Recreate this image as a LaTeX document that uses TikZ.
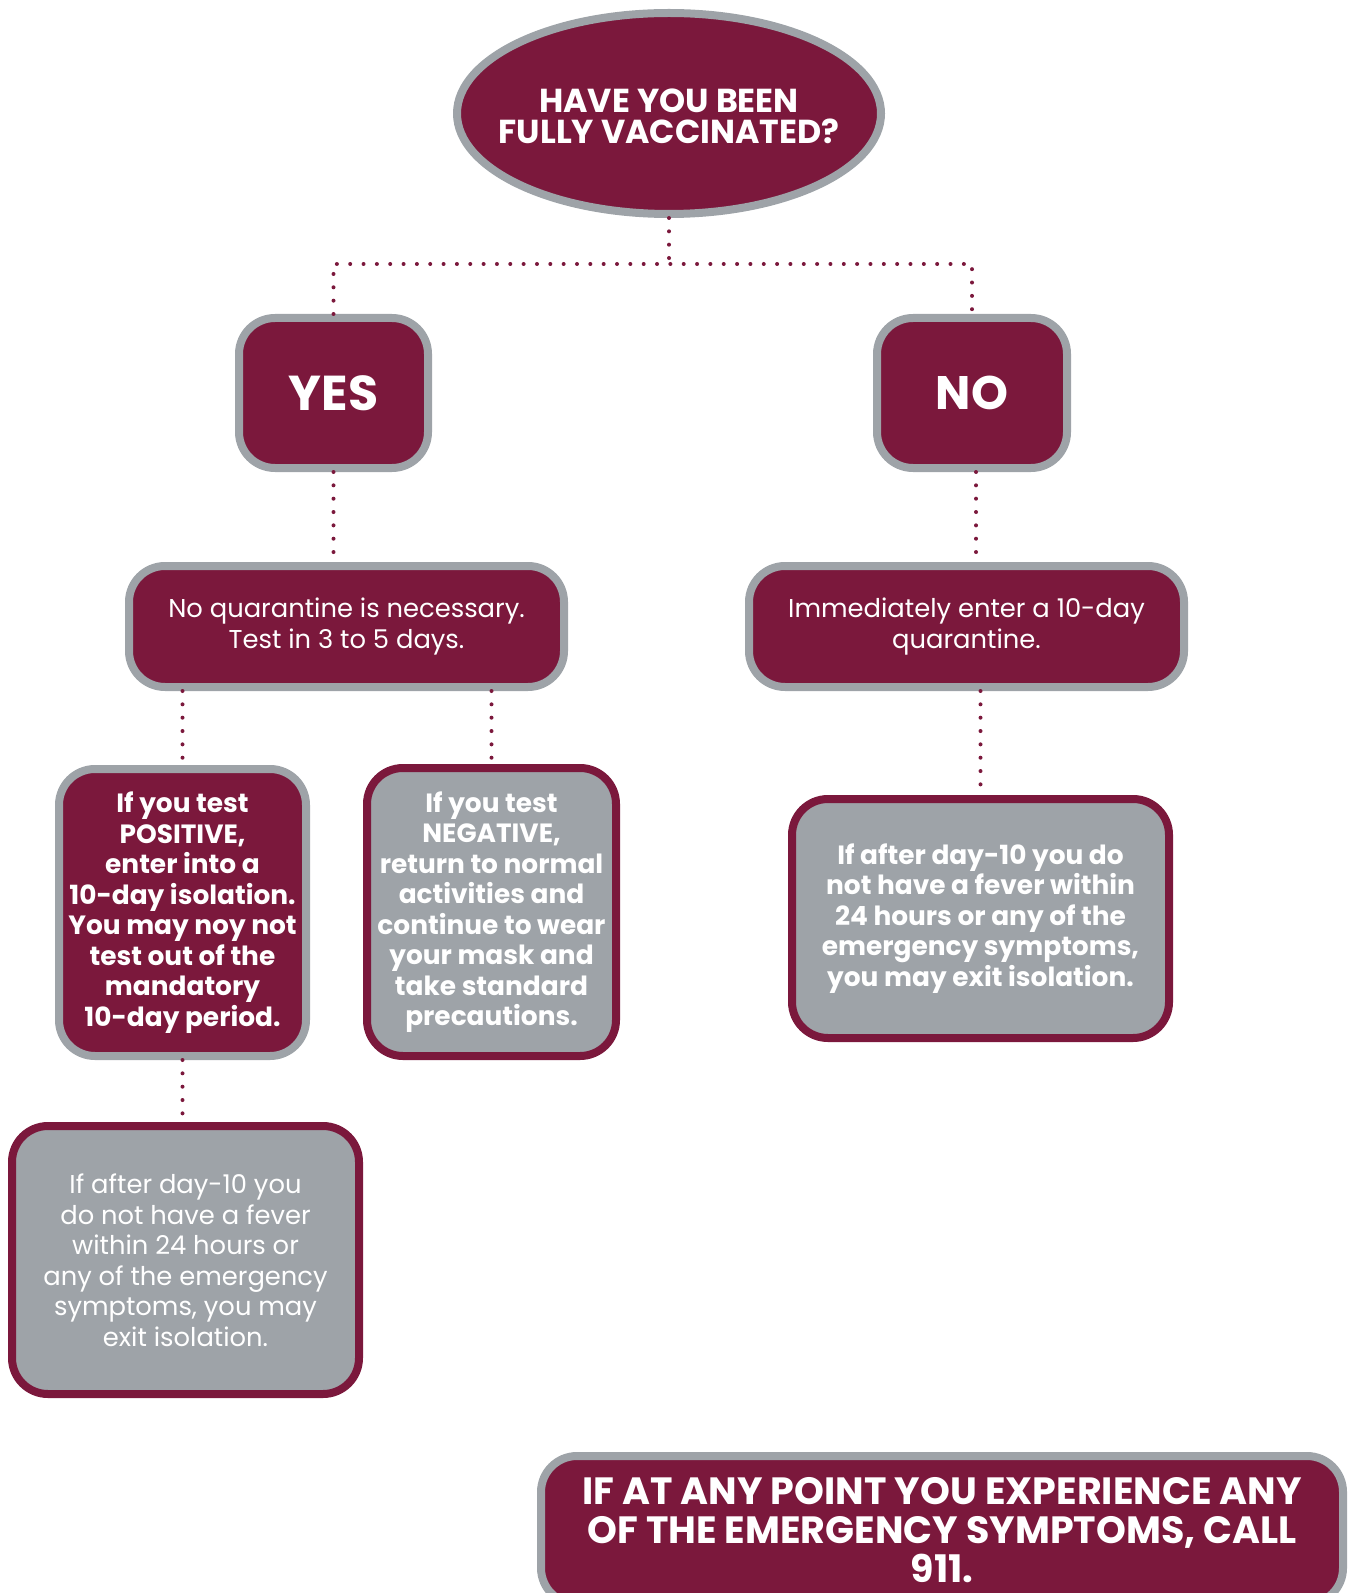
\documentclass[tikz,border=0pt]{standalone}
\usepackage{fontspec}
\setmainfont{Poppins}
\usetikzlibrary{shapes.geometric}
\definecolor{wine}{RGB}{123,24,60}
\definecolor{ash}{RGB}{158,163,168}
\begin{document}
\begin{tikzpicture}[x=0.5pt,y=-0.5pt,
  dotline/.style={wine, line width=2pt, line cap=round, dash pattern=on 0pt off 6.67pt},
  mbox/.style={rounded corners=18pt, draw=ash, fill=wine, line width=4pt, text=white, align=center, inner sep=0pt},
  gbox/.style={rounded corners=18pt, draw=wine, fill=ash, line width=4pt, text=white, align=center, inner sep=0pt},
  bodyreg/.style={font=\fontsize{12.9}{15.25}\selectfont},
  bodybold/.style={font=\fontsize{13.2}{15.25}\selectfont\bfseries},
]
\useasboundingbox (0,0) rectangle (1352,1593);
\clip (0,0) rectangle (1352,1593);

\node[ellipse, draw=ash, fill=wine, line width=4pt, minimum width=212pt, minimum height=100.5pt, inner sep=0pt] (q) at (669,113.5) {};
\node[text=white, align=center, inner sep=0pt, font=\fontsize{16.6}{15.5}\selectfont\bfseries] (qt) at (669,116) {HAVE YOU BEEN\\FULLY VACCINATED?};

\node[mbox, minimum width=94.5pt, minimum height=75pt, font=\fontsize{24.5}{28}\selectfont\bfseries] (yes) at (333.5,393) {YES};
\node[mbox, minimum width=95pt, minimum height=75pt, font=\fontsize{23.5}{28}\selectfont\bfseries] (no) at (972,393) {NO};

\node[mbox, bodyreg, minimum width=217.5pt, minimum height=60.5pt] (nq) at (346.5,626.5) {No quarantine is necessary.\\Test in 3 to 5 days.};
\node[mbox, bodyreg, minimum width=217.5pt, minimum height=60.5pt] (imm) at (966.5,626.5) {Immediately enter a 10-day\\quarantine.};

\node[mbox, bodybold, minimum width=123.5pt, minimum height=143.5pt] (pos) at (182.5,912.5) {If you test\\POSITIVE,\\enter into a\\10-day isolation.\\You may noy not\\test out of the\\mandatory\\10-day period.};
\node[gbox, bodybold, minimum width=124.5pt, minimum height=144pt] (neg) at (491.5,912) {If you test\\NEGATIVE,\\return to normal\\activities and\\continue to wear\\your mask and\\take standard\\precautions.};
\node[gbox, bodybold, minimum width=188.5pt, minimum height=119.5pt] (rb) at (980.5,918.5) {If after day-10 you do\\not have a fever within\\24 hours or any of the\\emergency symptoms,\\you may exit isolation.};
\node[gbox, bodyreg, minimum width=173.5pt, minimum height=134pt] (bl) at (185.5,1260) {If after day-10 you\\do not have a fever\\within 24 hours or\\any of the emergency\\symptoms, you may\\exit isolation.};

\node[mbox, minimum width=401pt, minimum height=74pt, font=\fontsize{19}{19.5}\selectfont\bfseries] (bot) at (942,1530) {IF AT ANY POINT YOU EXPERIENCE ANY\\OF THE EMERGENCY SYMPTOMS, CALL\\911.};

\coordinate (j) at (669,264);
\draw[dotline] (q.south) -- (j);
\draw[dotline] (yes.north) |- (j) -| (no.north);
\draw[dotline] (yes.south) -- (yes.south |- nq.north);
\draw[dotline] ([xshift=2pt]no.south) -- ([xshift=2pt]no.south |- imm.north);
\draw[dotline] (pos.north |- nq.south) -- (pos.north);
\draw[dotline] (neg.north |- nq.south) -- (neg.north);
\draw[dotline] (rb.north |- imm.south) -- (rb.north);
\draw[dotline] (pos.south) -- (pos.south |- bl.north);
\end{tikzpicture}
\end{document}
